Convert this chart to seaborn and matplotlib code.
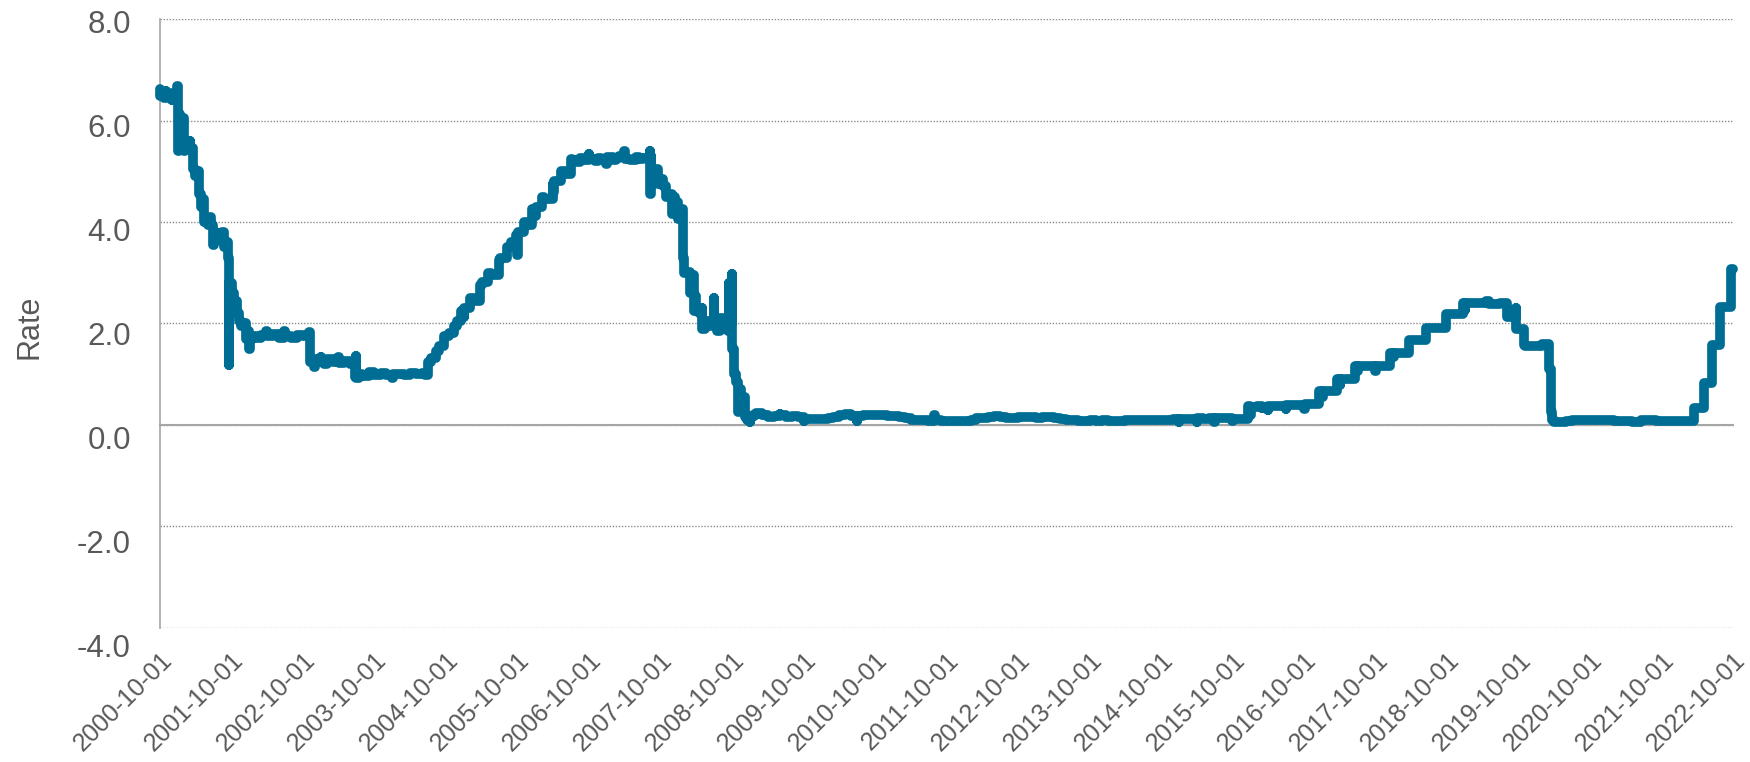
import pandas as pd
import matplotlib.pyplot as plt
import seaborn as sns

sns.set_theme(style="white")
plt.rcParams['font.family'] = ['Liberation Sans', 'DejaVu Sans']
plt.rcParams['axes.unicode_minus'] = False

# --- Data: daily rate as (date of change, new level) ---
rate_steps = [
    # 2000
    ("2000-10-01", 6.62), ("2000-10-02", 6.48), ("2000-10-10", 6.56), ("2000-10-20", 6.45),
    ("2000-11-01", 6.58), ("2000-11-03", 6.48), ("2000-11-15", 6.53), ("2000-11-30", 6.40),
    ("2000-12-01", 6.55), ("2000-12-15", 6.45), ("2000-12-28", 6.68),
    # 2001
    ("2001-01-02", 6.55), ("2001-01-03", 5.40), ("2001-01-04", 6.12), ("2001-01-10", 5.95),
    ("2001-01-22", 6.05), ("2001-01-31", 5.55), ("2001-02-01", 5.40), ("2001-02-05", 5.55),
    ("2001-02-20", 5.48), ("2001-03-01", 5.60), ("2001-03-05", 5.45), ("2001-03-21", 5.05),
    ("2001-03-30", 4.90), ("2001-04-03", 5.00), ("2001-04-19", 4.55), ("2001-04-30", 4.30),
    ("2001-05-02", 4.45), ("2001-05-16", 4.00), ("2001-06-01", 3.95), ("2001-06-15", 4.10),
    ("2001-06-20", 3.95), ("2001-06-28", 3.75), ("2001-06-29", 3.55), ("2001-07-02", 3.80),
    ("2001-07-16", 3.75), ("2001-08-01", 3.65), ("2001-08-15", 3.80), ("2001-08-22", 3.50),
    ("2001-09-10", 3.60), ("2001-09-12", 3.30), ("2001-09-19", 1.19), ("2001-09-20", 2.80),
    ("2001-10-03", 2.60), ("2001-10-15", 2.45), ("2001-10-31", 2.20), ("2001-11-07", 2.05),
    ("2001-11-20", 1.95), ("2001-12-03", 2.00), ("2001-12-12", 1.70), ("2001-12-20", 1.85),
    ("2001-12-31", 1.50),
    # 2002
    ("2002-01-02", 1.70), ("2002-01-15", 1.76), ("2002-02-01", 1.72), ("2002-03-01", 1.78),
    ("2002-03-28", 1.86), ("2002-04-01", 1.75), ("2002-05-01", 1.79), ("2002-06-03", 1.72),
    ("2002-06-28", 1.86), ("2002-07-01", 1.75), ("2002-08-01", 1.72), ("2002-09-03", 1.78),
    ("2002-10-01", 1.75), ("2002-10-31", 1.84), ("2002-11-07", 1.25), ("2002-11-29", 1.15),
    ("2002-12-02", 1.30), ("2002-12-16", 1.24), ("2002-12-31", 1.33),
    # 2003
    ("2003-01-02", 1.25), ("2003-01-15", 1.20), ("2003-02-03", 1.30), ("2003-03-03", 1.24),
    ("2003-03-31", 1.33), ("2003-04-01", 1.22), ("2003-05-01", 1.27), ("2003-05-30", 1.20),
    ("2003-06-26", 0.95), ("2003-06-30", 1.35), ("2003-07-01", 0.92), ("2003-07-15", 1.00),
    ("2003-08-01", 0.97), ("2003-09-02", 1.04), ("2003-09-30", 0.98), ("2003-11-03", 1.02),
    ("2003-12-01", 0.98), ("2003-12-31", 0.93),
    # 2004
    ("2004-01-02", 1.00), ("2004-02-02", 1.01), ("2004-03-01", 0.98), ("2004-04-01", 1.02),
    ("2004-05-03", 1.00), ("2004-06-01", 1.02), ("2004-06-15", 0.98), ("2004-06-30", 1.25),
    ("2004-07-15", 1.32), ("2004-08-11", 1.45), ("2004-08-25", 1.55), ("2004-09-22", 1.75),
    ("2004-10-15", 1.82), ("2004-11-11", 1.95), ("2004-11-25", 2.05), ("2004-12-15", 2.25),
    ("2004-12-31", 2.12),
    # 2005
    ("2005-01-03", 2.30), ("2005-02-03", 2.50), ("2005-02-20", 2.45), ("2005-03-23", 2.75),
    ("2005-04-01", 2.82), ("2005-05-04", 3.00), ("2005-05-20", 2.95), ("2005-06-30", 3.25),
    ("2005-07-05", 3.30), ("2005-08-10", 3.50), ("2005-08-31", 3.60), ("2005-09-21", 3.75),
    ("2005-09-30", 3.35), ("2005-10-03", 3.80), ("2005-11-02", 4.00), ("2005-11-30", 3.95),
    ("2005-12-14", 4.25), ("2005-12-30", 4.12),
    # 2006
    ("2006-01-03", 4.30), ("2006-02-01", 4.50), ("2006-02-15", 4.45), ("2006-03-29", 4.75),
    ("2006-03-31", 4.60), ("2006-04-03", 4.80), ("2006-05-11", 5.00), ("2006-05-31", 4.95),
    ("2006-06-30", 5.25), ("2006-07-05", 5.22), ("2006-07-31", 5.18), ("2006-08-15", 5.27),
    ("2006-09-01", 5.22), ("2006-09-29", 5.35), ("2006-10-02", 5.25), ("2006-11-01", 5.20),
    ("2006-11-15", 5.27), ("2006-12-01", 5.24), ("2006-12-29", 5.15),
    # 2007
    ("2007-01-02", 5.28), ("2007-01-31", 5.22), ("2007-02-15", 5.27), ("2007-03-01", 5.30),
    ("2007-03-30", 5.40), ("2007-04-02", 5.25), ("2007-05-01", 5.22), ("2007-05-31", 5.28),
    ("2007-06-15", 5.25), ("2007-07-02", 5.26), ("2007-08-01", 5.28), ("2007-08-09", 5.40),
    ("2007-08-10", 4.55), ("2007-08-13", 5.00), ("2007-08-14", 5.30), ("2007-08-15", 4.75),
    ("2007-08-20", 5.00), ("2007-08-31", 4.90), ("2007-09-04", 5.05), ("2007-09-19", 4.75),
    ("2007-10-01", 4.85), ("2007-10-15", 4.70), ("2007-11-01", 4.50), ("2007-11-15", 4.55),
    ("2007-11-30", 4.15), ("2007-12-03", 4.50), ("2007-12-12", 4.25), ("2007-12-20", 4.40),
    ("2007-12-31", 4.05),
    # 2008
    ("2008-01-02", 4.15), ("2008-01-15", 4.25), ("2008-01-22", 3.50), ("2008-01-23", 3.30),
    ("2008-01-31", 3.00), ("2008-02-15", 3.02), ("2008-02-29", 2.60), ("2008-03-03", 2.95),
    ("2008-03-19", 2.25), ("2008-03-25", 2.55), ("2008-04-01", 2.30), ("2008-04-15", 2.20),
    ("2008-04-30", 2.30), ("2008-05-01", 1.90), ("2008-05-15", 2.05), ("2008-06-02", 1.95),
    ("2008-06-16", 2.05), ("2008-06-30", 2.50), ("2008-07-01", 2.00), ("2008-07-15", 1.85),
    ("2008-07-31", 2.10), ("2008-08-15", 2.00), ("2008-09-02", 1.95), ("2008-09-12", 1.85),
    ("2008-09-15", 2.64), ("2008-09-16", 2.80), ("2008-09-17", 2.00), ("2008-09-29", 1.55),
    ("2008-09-30", 2.97), ("2008-10-01", 1.60), ("2008-10-02", 1.50), ("2008-10-09", 1.00),
    ("2008-10-20", 0.85), ("2008-10-30", 0.25), ("2008-11-03", 0.70), ("2008-11-15", 0.45),
    ("2008-11-25", 0.55), ("2008-12-05", 0.15), ("2008-12-17", 0.10), ("2008-12-31", 0.05),
    # 2009 - 2010
    ("2009-01-02", 0.15), ("2009-01-15", 0.20), ("2009-02-02", 0.23), ("2009-03-02", 0.20),
    ("2009-04-01", 0.16), ("2009-05-01", 0.18), ("2009-06-01", 0.22), ("2009-06-05", 0.19),
    ("2009-07-01", 0.15), ("2009-08-03", 0.17), ("2009-09-01", 0.15), ("2009-10-01", 0.07),
    ("2009-10-02", 0.12), ("2009-11-02", 0.12), ("2009-12-01", 0.12),
    ("2010-01-04", 0.12), ("2010-02-01", 0.13), ("2010-03-01", 0.15), ("2010-04-01", 0.19),
    ("2010-05-03", 0.21), ("2010-06-01", 0.18), ("2010-06-30", 0.08), ("2010-07-01", 0.18),
    ("2010-08-02", 0.19), ("2010-09-01", 0.19), ("2010-10-01", 0.20), ("2010-11-01", 0.19),
    ("2010-12-01", 0.18),
    # 2011 - 2014
    ("2011-01-03", 0.17), ("2011-02-01", 0.15), ("2011-03-01", 0.14), ("2011-04-01", 0.10),
    ("2011-05-02", 0.09), ("2011-06-01", 0.09), ("2011-07-01", 0.08), ("2011-07-29", 0.20),
    ("2011-08-01", 0.09), ("2011-09-01", 0.08), ("2011-10-03", 0.07), ("2011-11-01", 0.08),
    ("2011-12-01", 0.07),
    ("2012-01-03", 0.08), ("2012-02-01", 0.10), ("2012-03-01", 0.13), ("2012-04-02", 0.14),
    ("2012-05-01", 0.16), ("2012-06-01", 0.17), ("2012-07-02", 0.16), ("2012-08-01", 0.13),
    ("2012-09-04", 0.14), ("2012-10-01", 0.16), ("2012-11-01", 0.16), ("2012-12-03", 0.16),
    ("2013-01-02", 0.14), ("2013-02-01", 0.15), ("2013-03-01", 0.15), ("2013-04-01", 0.14),
    ("2013-05-01", 0.11), ("2013-06-03", 0.10), ("2013-07-01", 0.09), ("2013-08-01", 0.08),
    ("2013-09-03", 0.08), ("2013-10-01", 0.09), ("2013-11-01", 0.08), ("2013-12-02", 0.09),
    ("2014-01-02", 0.07), ("2014-02-03", 0.07), ("2014-03-03", 0.08), ("2014-04-01", 0.09),
    ("2014-05-01", 0.09), ("2014-06-02", 0.10), ("2014-07-01", 0.09), ("2014-08-01", 0.09),
    ("2014-09-02", 0.09), ("2014-10-01", 0.09), ("2014-11-03", 0.09), ("2014-12-01", 0.12),
    ("2014-12-31", 0.06),
    # 2015 - 2019
    ("2015-01-02", 0.12), ("2015-02-02", 0.11), ("2015-03-02", 0.11), ("2015-03-31", 0.06),
    ("2015-04-01", 0.13), ("2015-05-01", 0.12), ("2015-06-01", 0.13), ("2015-06-30", 0.06),
    ("2015-07-01", 0.13), ("2015-08-03", 0.14), ("2015-09-01", 0.14), ("2015-09-30", 0.07),
    ("2015-10-01", 0.12), ("2015-11-02", 0.12), ("2015-12-17", 0.37), ("2015-12-31", 0.20),
    ("2016-01-04", 0.36), ("2016-02-01", 0.38), ("2016-02-29", 0.33), ("2016-03-01", 0.36),
    ("2016-03-31", 0.30), ("2016-04-01", 0.37), ("2016-05-02", 0.37), ("2016-06-30", 0.31),
    ("2016-07-01", 0.40), ("2016-08-01", 0.40), ("2016-09-30", 0.32), ("2016-10-03", 0.41),
    ("2016-11-01", 0.41), ("2016-12-15", 0.66), ("2016-12-30", 0.55),
    ("2017-01-03", 0.66), ("2017-03-16", 0.91), ("2017-03-31", 0.79), ("2017-04-03", 0.91),
    ("2017-06-15", 1.16), ("2017-06-30", 1.06), ("2017-07-03", 1.16), ("2017-09-29", 1.06),
    ("2017-10-02", 1.16), ("2017-12-14", 1.42), ("2017-12-29", 1.33),
    ("2018-01-02", 1.42), ("2018-03-22", 1.68), ("2018-06-14", 1.91), ("2018-09-27", 2.18),
    ("2018-12-20", 2.40), ("2018-12-31", 2.27),
    ("2019-01-02", 2.40), ("2019-04-15", 2.44), ("2019-05-02", 2.38), ("2019-06-28", 2.41),
    ("2019-07-01", 2.40), ("2019-08-01", 2.13), ("2019-09-17", 2.30), ("2019-09-19", 1.90),
    ("2019-10-31", 1.58), ("2019-11-01", 1.55),
    # 2020 - 2022
    ("2020-01-30", 1.59), ("2020-03-04", 1.10), ("2020-03-16", 0.25), ("2020-03-20", 0.10),
    ("2020-04-01", 0.05), ("2020-05-01", 0.05), ("2020-06-01", 0.08), ("2020-07-01", 0.10),
    ("2020-08-03", 0.10), ("2020-09-01", 0.09), ("2021-01-04", 0.09), ("2021-02-01", 0.08),
    ("2021-03-01", 0.07), ("2021-05-03", 0.06), ("2021-06-17", 0.10), ("2021-08-02", 0.09),
    ("2021-09-01", 0.08), ("2022-03-17", 0.33), ("2022-05-05", 0.83), ("2022-06-16", 1.58),
    ("2022-07-28", 2.33), ("2022-09-22", 3.08), ("2022-09-30", 3.08),
]

y_ticks = [-4, -2, 0, 2, 4, 6, 8]
y_tick_labels = ["-4.0", "-2.0", "0.0", "2.0", "4.0", "6.0", "8.0"]
x_tick_labels = [f"{year}-10-01" for year in range(2000, 2023)]

df = pd.DataFrame(rate_steps, columns=["date", "rate"])
df["date"] = pd.to_datetime(df["date"])

# --- Plot ---
LINE = "#006E94"
TEXT = "#595959"
AXIS = "#A6A6A6"

fig = plt.figure(figsize=(17.5, 7.62), dpi=100)
ax = fig.add_axes([0.0914, 0.176, 0.899, 0.799])

sns.lineplot(data=df, x="date", y="rate", ax=ax, color=LINE, linewidth=7,
             drawstyle="steps-post", solid_capstyle="round",
             solid_joinstyle="round", zorder=3, clip_on=False)
ax.lines[0].set_linewidth(7)

ax.set_xlim(pd.Timestamp(x_tick_labels[0]), pd.Timestamp(x_tick_labels[-1]))
ax.set_ylim(y_ticks[0], y_ticks[-1])
ax.set_yticks(y_ticks)
ax.set_xticks(pd.to_datetime(x_tick_labels))
ax.set_xticklabels(x_tick_labels)

# dotted gridlines, solid axis line through zero
ax.set_axisbelow(True)
ax.yaxis.grid(True, color="#8C8C8C", linestyle=(0, (1, 1.2)), linewidth=1)
ax.xaxis.grid(False)
for side in ["top", "right"]:
    ax.spines[side].set_visible(False)
ax.spines["left"].set_color(AXIS)
ax.spines["left"].set_linewidth(1.2)
ax.spines["bottom"].set_position(("data", 0))
ax.spines["bottom"].set_color(AXIS)
ax.spines["bottom"].set_linewidth(1.5)

# x labels sit below the plot, ticks stay on the zero line
tick_len_px = 8
ax_h_px = fig.get_figheight() * fig.dpi * 0.799
zero_to_bottom = ax_h_px * (0 - y_ticks[0]) / (y_ticks[-1] - y_ticks[0])
pad_pts = (zero_to_bottom + 20 - tick_len_px) * 72 / fig.dpi

ax.tick_params(axis="x", direction="out", length=tick_len_px * 0.72, width=1.2,
               color=AXIS, pad=pad_pts, labelsize=18, labelcolor=TEXT)
ax.tick_params(axis="y", length=0, labelleft=False)
plt.setp(ax.get_xticklabels(), rotation=45, ha="right", va="top", rotation_mode="anchor")

# the value labels in the original run on a slightly taller scale than the grid
ax_lab = fig.add_axes([0.0914, 0.1535, 0.899, 0.8189])
ax_lab.set_ylim(y_ticks[0], y_ticks[-1])
ax_lab.set_yticks(y_ticks)
ax_lab.set_yticklabels(y_tick_labels)
ax_lab.tick_params(axis="y", length=0, pad=21, labelsize=22.5, labelcolor=TEXT)
ax_lab.tick_params(axis="x", bottom=False, labelbottom=False)
ax_lab.patch.set_visible(False)
for side in ax_lab.spines:
    ax_lab.spines[side].set_visible(False)
ax_lab.grid(False)

ax.set_xlabel("")
ax.set_ylabel("Rate", fontsize=22, color=TEXT)
ax.yaxis.set_label_coords(-0.0737, 0.495)

plt.savefig("out.png", dpi=100)
print("saved out.png")
